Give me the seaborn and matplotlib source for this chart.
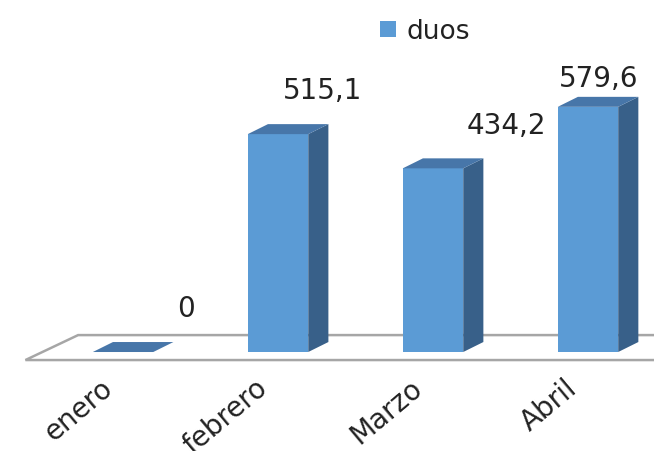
import numpy as np
import matplotlib
matplotlib.use("Agg")
import matplotlib.pyplot as plt
from matplotlib.patches import Polygon
import seaborn as sns

# data
months = ["enero", "febrero", "Marzo", "Abril"]
duos = [0, 515.1, 434.2, 579.6]
value_labels = ["0", "515,1", "434,2", "579,6"]
# label offsets in points (Excel put them a bit unevenly)
label_offsets = [(45, 32), (32, 32), (53, 31), (8, 21)]

front = "#5B9BD5"
side = "#386089"
top = "#4776A9"

sns.set_style("white")
plt.rcParams["font.family"] = ["DejaVu Sans"]

fig = plt.figure(figsize=(6.54, 4.52), dpi=100)
ax = fig.add_axes([0, 0, 1, 1])

bar_w = 0.39
sns.barplot(x=months, y=duos, color=front, saturation=1, width=bar_w,
            linewidth=0, label="duos", ax=ax, zorder=3)

# fake 3d depth
dx, dy = 0.13, 23.6

# floor
fl_front, fl_back = -19, 40
fl_dx = 0.34
floor = Polygon([(-0.63, fl_front), (3.8, fl_front), (3.8 + fl_dx, fl_back),
                 (-0.63 + fl_dx, fl_back)], closed=True, facecolor="white",
                edgecolor="#A6A6A6", linewidth=1.8, zorder=1)
ax.add_patch(floor)

for p in ax.patches[:len(duos)]:
    x0 = p.get_x()
    x1 = x0 + p.get_width()
    h = p.get_height()
    ax.add_patch(Polygon([(x1, 0), (x1 + dx, dy), (x1 + dx, h + dy), (x1, h)],
                         closed=True, facecolor=side, linewidth=0, zorder=2))
    ax.add_patch(Polygon([(x0, h), (x1, h), (x1 + dx, h + dy), (x0 + dx, h + dy)],
                         closed=True, facecolor=top, linewidth=0, zorder=4))

for i, (v, txt) in enumerate(zip(duos, value_labels)):
    ax.annotate(txt, (i, v), xytext=label_offsets[i], textcoords="offset points",
                ha="center", va="center", fontsize=20, color="#222222")

for i, m in enumerate(months):
    ax.text(i - 0.15, -50, m, rotation=40, rotation_mode="anchor",
            ha="right", va="top", fontsize=20, color="#222222")

ax.set_xlim(-0.794, 3.426)
ax.set_ylim(-234, 834.5)
ax.axis("off")

ax.legend(loc="upper left", bbox_to_anchor=(0.545, 1.01), frameon=False,
          fontsize=19, handlelength=0.6, handleheight=0.6, handletextpad=0.4,
          labelcolor="#222222")

fig.savefig("out.png", dpi=100)
